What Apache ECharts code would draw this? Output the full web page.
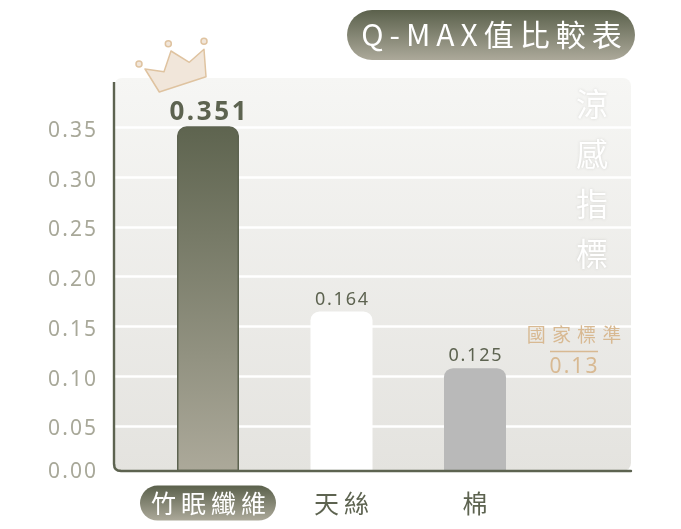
<!DOCTYPE html>
<html><head><meta charset="utf-8">
<style>html,body{margin:0;padding:0;background:#fff}#c{width:681px;height:529px}</style>
<script src="https://cdn.jsdelivr.net/npm/echarts@6/dist/echarts.min.js"></script>
</head><body><div id="c"></div>
<script>
const categories = ['竹眠纖維', '天絲', '棉', ''];
const drawnHeights = [0.351, 0.165, 0.108, null];
const printedValues = ['0.351', '0.164', '0.125', ''];
const gridValues = [0.05, 0.10, 0.15, 0.20, 0.25, 0.30, 0.35];
const titleText = 'Q-MAX值比較表';
const sideText = ['涼', '感', '指', '標'];
const standardName = '國家標準';
const standardValue = '0.13';

const FONT = '"Noto Sans CJK TC","Noto Sans",sans-serif';
const NUM = '"Noto Sans","Noto Sans CJK TC",sans-serif';
const DARK = '#5d6350', TAN = '#d8b992';
const HAIR = '\u200a', THIN = '\u2009';
const sp = (s, g) => Array.from(s).join(g);
const grad = (a, b) => new echarts.graphic.LinearGradient(0, 0, 0, 1, [{offset: 0, color: a}, {offset: 1, color: b}]);
const axisMin = 0.0051, axisMax = 0.3999;

const chart = echarts.init(document.getElementById('c'), null, {width: 681, height: 529});
const barStyles = [
  {color: grad('#5e644f', '#aca99a'), borderColor: DARK, borderWidth: 1.5, borderRadius: [9, 9, 0, 0]},
  {color: '#ffffff', borderRadius: [9, 9, 0, 0]},
  {color: '#b9b9b9', borderRadius: [9, 9, 0, 0]},
  {}
];
const labelStyles = [
  {fontSize: 26, fontWeight: 'bold', color: DARK, distance: 1, gap: HAIR},
  {fontSize: 18, color: DARK, distance: 3, gap: HAIR},
  {fontSize: 18, color: DARK, distance: 3, gap: HAIR},
  {gap: ''}
];

chart.setOption({
  animation: false,
  backgroundColor: '#ffffff',
  textStyle: {fontFamily: FONT},
  grid: [
    {left: 114, right: 50, top: 77.6, height: 393, containLabel: false},
    {left: 141.25, width: 534, top: 77.6, height: 393, containLabel: false}
  ],
  xAxis: [
    {type: 'category', gridIndex: 0, data: [''], z: 5,
     axisLine: {show: true, lineStyle: {color: DARK, width: 2.4}},
     axisTick: {show: false}, axisLabel: {show: false}},
    {type: 'category', gridIndex: 1, data: categories,
     axisLine: {show: false}, axisTick: {show: false},
     axisLabel: {
       margin: 15, interval: 0, fontFamily: FONT,
       formatter: (v, i) => i === 0 ? '{hi|' + sp(v, THIN) + '}' : '{lo|' + sp(v, THIN) + '}',
       rich: {
         hi: {color: '#fff', fontSize: 25, fontFamily: FONT, backgroundColor: grad('#5b614c', '#aca99a'),
              borderRadius: 18, padding: [0, 10, 0, 11], lineHeight: 35, height: 35},
         lo: {color: DARK, fontSize: 25, fontFamily: FONT, lineHeight: 35, height: 35}
       }
     }}
  ],
  yAxis: [
    {type: 'value', gridIndex: 0, min: axisMin, max: axisMax,
     axisLine: {show: true, onZero: false, lineStyle: {color: DARK, width: 2.4}},
     axisTick: {show: false, customValues: gridValues},
     splitLine: {show: true, lineStyle: {color: '#ffffff', width: 2.6}},
     axisLabel: {
       margin: 18, fontSize: 21, color: '#a8a899', fontFamily: NUM,
       customValues: [axisMin].concat(gridValues),
       formatter: v => v === axisMin
         ? '{z|' + sp((0).toFixed(2), HAIR) + '}'
         : '{n|' + sp(v.toFixed(2), HAIR) + '}',
       rich: {
         z: {fontSize: 21, color: '#a8a899', fontFamily: NUM, padding: [3, 0, 0, 0]},
         n: {fontSize: 21, color: '#a8a899', fontFamily: NUM, padding: [7, 0, 0, 0]}
       }
     }},
    {type: 'value', gridIndex: 1, min: axisMin, max: axisMax, show: false, splitLine: {show: false}}
  ],
  series: [{
    type: 'bar', xAxisIndex: 1, yAxisIndex: 1, barWidth: 62, z: 3,
    data: drawnHeights.map((v, i) => {
      const {gap, ...ls} = labelStyles[i];
      return {
        value: v,
        itemStyle: barStyles[i],
        label: Object.assign({show: true, position: 'top', fontFamily: NUM,
          formatter: sp(printedValues[i], gap)}, ls)
      };
    })
  }],
  graphic: [
    {type: 'rect', z: -10, silent: true, shape: {x: 114, y: 78, width: 517, height: 393, r: 8},
     style: {fill: grad('#f6f6f4', '#e4e3df')}},
    {type: 'rect', z: 1, silent: true, shape: {x: 347, y: 10, width: 288, height: 50, r: 25},
     style: {fill: grad('#5b614c', '#aca99a')}},
    {type: 'text', z: 2, silent: true, x: 491.5, y: 35,
     style: {text: sp(titleText, THIN), fill: '#fff', font: '30px ' + FONT, align: 'center', verticalAlign: 'middle'}},
    {type: 'text', z: 4, silent: true, x: 592, y: 179,
     style: {text: sideText.join('\n'), fill: '#ffffff', font: '32px ' + FONT, lineHeight: 49.8,
       align: 'center', verticalAlign: 'middle', textShadowColor: 'rgba(120,120,110,0.25)', textShadowBlur: 3}},
    {type: 'text', z: 4, silent: true, x: 574, y: 335,
     style: {text: sp(standardName, THIN + HAIR + HAIR), fill: TAN, font: '19px ' + FONT, align: 'center', verticalAlign: 'middle'}},
    {type: 'line', z: 4, silent: true, shape: {x1: 550, y1: 351.5, x2: 598, y2: 351.5}, style: {stroke: TAN, lineWidth: 1.5}},
    {type: 'text', z: 4, silent: true, x: 573.5, y: 367,
     style: {text: sp(standardValue, HAIR), fill: TAN, font: '21px ' + NUM, align: 'center', verticalAlign: 'middle'}},
    {type: 'polygon', z: 6, silent: true,
     shape: {points: [[145, 69], [164, 71.7], [171, 51], [189.3, 62.3], [204, 49.3], [206, 76.7], [159.3, 92]]},
     style: {fill: '#f1e6da', stroke: '#dfc3a0', lineWidth: 1.5, lineJoin: 'round'}},
    {type: 'circle', z: 6, silent: true, shape: {cx: 139, cy: 64, r: 3}, style: {fill: '#f1e6da', stroke: '#dfc3a0', lineWidth: 1.5}},
    {type: 'circle', z: 6, silent: true, shape: {cx: 168.3, cy: 43.7, r: 3}, style: {fill: '#f1e6da', stroke: '#dfc3a0', lineWidth: 1.5}},
    {type: 'circle', z: 6, silent: true, shape: {cx: 204, cy: 41.3, r: 3}, style: {fill: '#f1e6da', stroke: '#dfc3a0', lineWidth: 1.5}},
    {type: 'rect', z: 7, silent: true, shape: {x: 111, y: 76, width: 5, height: 6}, style: {fill: '#ffffff'}},
    {type: 'polygon', z: 7, silent: true, shape: {points: [[111, 464], [114, 464], [115, 468], [117, 470], [121, 471], [121, 474], [111, 474]]}, style: {fill: '#ffffff'}},
    {type: 'bezierCurve', z: 8, silent: true, shape: {x1: 114, y1: 464, cpx1: 114, cpy1: 471, x2: 121, y2: 471}, style: {fill: 'none', stroke: DARK, lineWidth: 2.4}}
  ]
});
</script></body></html>
